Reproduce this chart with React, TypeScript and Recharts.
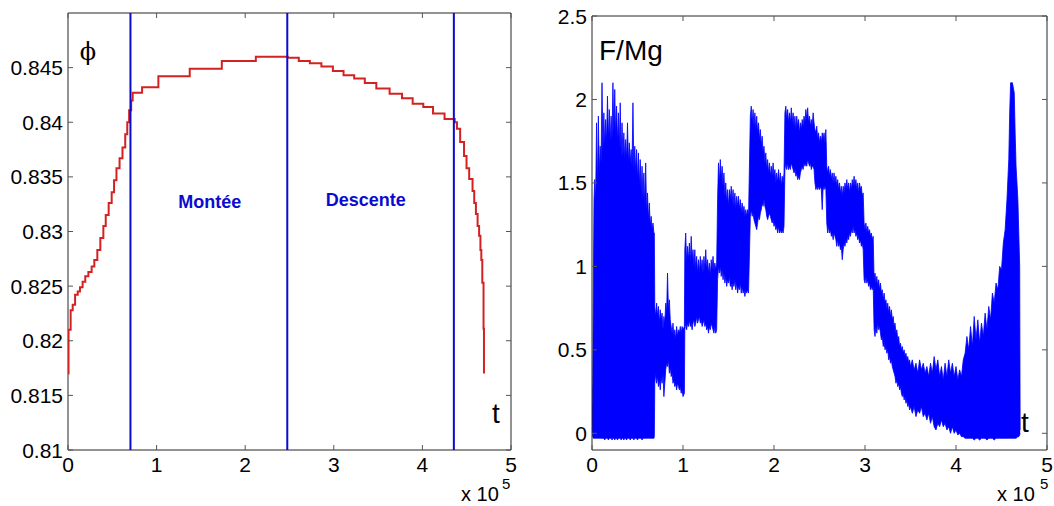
import React from "react";
import {
  Area,
  ComposedChart,
  Line,
  LineChart,
  ReferenceArea,
  ReferenceDot,
  ReferenceLine,
  XAxis,
  YAxis,
} from "recharts";

const FONT = '"Liberation Sans", Arial, Helvetica, sans-serif';
const BOX = "#262626";
const TICK = "#555";
const RED = "#d42222";
const BLUE_LINE = "#0b0bd0";
const BLUE = "#0000ff";
const TICK_LEN = 5;
const TICK_FONT = 21;

// ---- left panel: phi(t), t in units of 1e5 ----
const phiT = [
  0.004, 0.006, 0.03, 0.053, 0.08, 0.11, 0.135, 0.165, 0.195, 0.23, 0.267, 0.297,
  0.331, 0.365, 0.399, 0.426, 0.459, 0.493, 0.52, 0.547, 0.582, 0.615, 0.646,
  0.669, 0.69, 0.713, 0.73, 0.836, 1.02, 1.374, 1.736, 2.12, 2.48, 2.605, 2.73,
  2.86, 2.99, 3.11, 3.23, 3.35, 3.48, 3.63, 3.77, 3.89, 4.01, 4.12, 4.25, 4.365,
  4.39, 4.426, 4.47, 4.498, 4.528, 4.566, 4.585, 4.604, 4.623, 4.64, 4.655,
  4.665, 4.676, 4.69, 4.695,
];
const phiV = [
  0.817, 0.821, 0.8228, 0.8233, 0.8242, 0.8245, 0.8249, 0.8254, 0.8259, 0.8263,
  0.8268, 0.8274, 0.8283, 0.8294, 0.8305, 0.8315, 0.8326, 0.8336, 0.8347, 0.8358,
  0.8367, 0.8377, 0.8389, 0.84, 0.8411, 0.842, 0.8427, 0.8432, 0.8442, 0.8449,
  0.8456, 0.846, 0.8459, 0.8456, 0.8454, 0.8451, 0.8447, 0.8443, 0.844, 0.8436,
  0.8431, 0.8426, 0.8422, 0.8417, 0.8414, 0.8408, 0.8403, 0.84, 0.8394, 0.8382,
  0.8369, 0.8358, 0.8348, 0.8337, 0.8326, 0.8316, 0.8305, 0.8296, 0.8283, 0.8274,
  0.8253, 0.8211, 0.817,
];
const phaseLimits = [0.705, 2.475, 4.355];
const phaseNames = ["Montée", "Descente"];
const phaseLabelT = [1.6, 3.36];
const phaseLabelPhi = [0.8327, 0.8329];
const xTicks = [0, 1, 2, 3, 4, 5];
const phiTicks = [0.81, 0.815, 0.82, 0.825, 0.83, 0.835, 0.84, 0.845];

// ---- right panel: F/Mg, envelope (low, high) of the fast oscillation ----
const fSamples: [number, number, number][] = [
  [0.0, 0.02, 0.15], [0.008, -0.02, 0.3], [0.015, -0.03, 0.9], [0.022, -0.03, 1.4],
  [0.03, -0.03, 1.52], [0.04, -0.03, 1.4], [0.05, -0.03, 1.86], [0.06, -0.03, 1.45],
  [0.07, -0.03, 1.9], [0.08, -0.03, 1.55], [0.09, -0.03, 1.72], [0.1, -0.03, 1.62],
  [0.11, -0.03, 2.1], [0.12, -0.03, 1.7], [0.13, -0.03, 1.92], [0.14, -0.04, 1.72],
  [0.15, -0.03, 1.88], [0.16, -0.03, 1.74], [0.17, -0.03, 2.02], [0.18, -0.04, 1.76],
  [0.19, -0.03, 1.94], [0.2, -0.03, 1.75], [0.21, -0.03, 1.9], [0.22, -0.04, 1.76],
  [0.23, -0.03, 2.1], [0.24, -0.03, 1.8], [0.25, -0.04, 2.06], [0.26, -0.03, 1.78],
  [0.27, -0.03, 1.96], [0.28, -0.04, 1.74], [0.29, -0.03, 1.92], [0.3, -0.03, 1.7],
  [0.31, -0.03, 1.98], [0.32, -0.04, 1.66], [0.33, -0.03, 1.86], [0.34, -0.03, 1.66],
  [0.35, -0.04, 1.8], [0.36, -0.03, 1.64], [0.37, -0.03, 1.76], [0.38, -0.04, 1.64],
  [0.39, -0.03, 1.86], [0.4, -0.03, 1.62], [0.41, -0.03, 1.74], [0.42, -0.04, 1.62],
  [0.43, -0.03, 1.7], [0.44, -0.03, 1.6], [0.45, -0.03, 1.98], [0.46, -0.04, 1.58],
  [0.47, -0.03, 1.72], [0.48, -0.03, 1.56], [0.49, -0.03, 1.7], [0.5, -0.04, 1.52],
  [0.51, -0.03, 1.68], [0.52, -0.03, 1.48], [0.53, -0.03, 1.64], [0.54, -0.03, 1.44],
  [0.55, -0.04, 1.6], [0.56, -0.03, 1.4], [0.57, -0.03, 1.56], [0.58, -0.03, 1.36],
  [0.59, -0.03, 1.62], [0.6, -0.03, 1.32], [0.61, -0.03, 1.44], [0.62, -0.03, 1.28],
  [0.63, -0.03, 1.38], [0.64, -0.03, 1.24], [0.65, -0.03, 1.3], [0.66, -0.03, 1.22],
  [0.67, -0.03, 1.26], [0.68, -0.03, 1.2], [0.685, -0.02, 1.2],
  [0.69, 0.3, 0.76], [0.7, 0.36, 0.7], [0.71, 0.3, 0.78], [0.72, 0.34, 0.7],
  [0.73, 0.28, 0.76], [0.74, 0.32, 0.66], [0.75, 0.26, 0.74], [0.76, 0.34, 0.68],
  [0.77, 0.3, 0.72], [0.78, 0.36, 0.62], [0.79, 0.22, 0.7], [0.8, 0.3, 0.66],
  [0.81, 0.38, 0.78], [0.82, 0.42, 0.72], [0.83, 0.4, 0.96], [0.84, 0.44, 0.74],
  [0.85, 0.36, 0.8], [0.86, 0.4, 0.68], [0.87, 0.34, 0.64], [0.88, 0.36, 0.6],
  [0.89, 0.3, 0.66], [0.9, 0.32, 0.58], [0.91, 0.28, 0.62], [0.92, 0.3, 0.56],
  [0.93, 0.26, 0.64], [0.94, 0.3, 0.58], [0.95, 0.28, 0.62], [0.96, 0.26, 0.6],
  [0.97, 0.28, 0.64], [0.98, 0.24, 0.6], [0.99, 0.26, 0.64], [1.0, 0.22, 0.62],
  [1.015, 0.24, 0.64],
  [1.02, 0.62, 1.1], [1.03, 0.66, 1.2], [1.04, 0.62, 1.02], [1.05, 0.66, 1.12],
  [1.06, 0.64, 1.04], [1.07, 0.68, 1.14], [1.08, 0.64, 1.02], [1.09, 0.66, 1.18],
  [1.1, 0.62, 1.04], [1.11, 0.66, 1.1], [1.12, 0.68, 1.0], [1.13, 0.64, 1.1],
  [1.14, 0.66, 0.98], [1.15, 0.7, 1.06], [1.16, 0.66, 0.96], [1.17, 0.68, 1.04],
  [1.18, 0.7, 0.96], [1.19, 0.66, 1.06], [1.2, 0.68, 0.98], [1.21, 0.64, 1.04],
  [1.22, 0.66, 0.96], [1.23, 0.68, 1.06], [1.24, 0.64, 0.98], [1.25, 0.66, 1.1],
  [1.26, 0.62, 0.98], [1.27, 0.64, 1.04], [1.28, 0.6, 0.96], [1.29, 0.64, 1.02],
  [1.3, 0.62, 0.94], [1.31, 0.66, 1.04], [1.32, 0.64, 0.98], [1.33, 0.62, 1.06],
  [1.34, 0.6, 0.98], [1.35, 0.64, 1.02], [1.36, 0.6, 0.98], [1.37, 0.62, 1.02],
  [1.38, 0.92, 1.4], [1.39, 1.0, 1.62], [1.4, 0.96, 1.5], [1.41, 1.0, 1.64],
  [1.42, 0.94, 1.52], [1.43, 0.98, 1.6], [1.44, 0.92, 1.48], [1.45, 0.96, 1.56],
  [1.46, 0.9, 1.42], [1.47, 0.94, 1.5], [1.48, 0.88, 1.38], [1.49, 0.92, 1.46],
  [1.5, 0.9, 1.36], [1.51, 0.94, 1.46], [1.52, 0.88, 1.4], [1.53, 0.9, 1.48],
  [1.54, 0.86, 1.38], [1.55, 0.9, 1.46], [1.56, 0.88, 1.36], [1.57, 0.92, 1.44],
  [1.58, 0.86, 1.34], [1.59, 0.9, 1.42], [1.6, 0.84, 1.36], [1.61, 0.88, 1.42],
  [1.62, 0.86, 1.34], [1.63, 0.9, 1.4], [1.64, 0.84, 1.32], [1.65, 0.88, 1.38],
  [1.66, 0.84, 1.32], [1.67, 0.86, 1.36], [1.68, 0.82, 1.3], [1.69, 0.86, 1.34],
  [1.7, 0.84, 1.3], [1.71, 0.86, 1.34], [1.72, 0.84, 1.3],
  [1.74, 1.3, 1.9], [1.75, 1.34, 1.96], [1.76, 1.3, 1.86], [1.77, 1.32, 1.94],
  [1.78, 1.28, 1.84], [1.79, 1.26, 1.92], [1.8, 1.24, 1.82], [1.81, 1.22, 1.9],
  [1.82, 1.26, 1.8], [1.83, 1.3, 1.86], [1.84, 1.28, 1.76], [1.85, 1.32, 1.82],
  [1.86, 1.34, 1.72], [1.87, 1.38, 1.78], [1.88, 1.36, 1.68], [1.89, 1.4, 1.72],
  [1.9, 1.36, 1.62], [1.91, 1.34, 1.68], [1.92, 1.3, 1.58], [1.93, 1.28, 1.64],
  [1.94, 1.3, 1.56], [1.95, 1.32, 1.62], [1.96, 1.3, 1.54], [1.97, 1.28, 1.6],
  [1.98, 1.26, 1.54], [1.99, 1.28, 1.62], [2.0, 1.24, 1.54], [2.01, 1.26, 1.58],
  [2.02, 1.22, 1.5], [2.03, 1.24, 1.56], [2.04, 1.2, 1.5], [2.05, 1.24, 1.58],
  [2.06, 1.2, 1.5], [2.07, 1.22, 1.56], [2.08, 1.2, 1.48], [2.09, 1.22, 1.54],
  [2.1, 1.2, 1.5], [2.11, 1.24, 1.56],
  [2.12, 1.58, 1.92], [2.13, 1.62, 1.96], [2.14, 1.58, 1.88], [2.15, 1.62, 1.94],
  [2.16, 1.58, 1.86], [2.17, 1.6, 1.92], [2.18, 1.58, 1.86], [2.19, 1.62, 1.95],
  [2.2, 1.6, 1.86], [2.21, 1.58, 1.92], [2.22, 1.56, 1.84], [2.23, 1.58, 1.9],
  [2.24, 1.54, 1.82], [2.25, 1.56, 1.9], [2.26, 1.52, 1.84], [2.27, 1.54, 1.88],
  [2.28, 1.52, 1.8], [2.29, 1.56, 1.86], [2.3, 1.58, 1.82], [2.31, 1.6, 1.88],
  [2.32, 1.58, 1.84], [2.33, 1.62, 1.9], [2.34, 1.6, 1.86], [2.35, 1.62, 1.94],
  [2.36, 1.6, 1.88], [2.37, 1.64, 1.95], [2.38, 1.62, 1.86], [2.39, 1.6, 1.9],
  [2.4, 1.62, 1.84], [2.41, 1.58, 1.88], [2.42, 1.6, 1.84], [2.43, 1.6, 1.92],
  [2.44, 1.58, 1.86], [2.45, 1.5, 1.82], [2.46, 1.46, 1.8], [2.47, 1.48, 1.84],
  [2.48, 1.46, 1.76], [2.49, 1.48, 1.8], [2.5, 1.46, 1.74], [2.51, 1.48, 1.78],
  [2.52, 1.46, 1.74], [2.53, 1.34, 1.8], [2.54, 1.48, 1.76], [2.55, 1.46, 1.8],
  [2.56, 1.48, 1.74], [2.57, 1.46, 1.82],
  [2.58, 1.26, 1.6], [2.59, 1.2, 1.56], [2.6, 1.24, 1.6], [2.61, 1.2, 1.54],
  [2.62, 1.22, 1.58], [2.63, 1.18, 1.52], [2.64, 1.2, 1.56], [2.65, 1.16, 1.5],
  [2.66, 1.2, 1.56], [2.67, 1.18, 1.5], [2.68, 1.16, 1.54], [2.69, 1.12, 1.48],
  [2.7, 1.16, 1.52], [2.71, 1.12, 1.46], [2.72, 1.14, 1.5], [2.73, 1.1, 1.44],
  [2.74, 1.12, 1.48], [2.75, 1.04, 1.42], [2.76, 1.1, 1.48], [2.77, 1.14, 1.44],
  [2.78, 1.12, 1.5], [2.79, 1.16, 1.46], [2.8, 1.14, 1.52], [2.81, 1.18, 1.46],
  [2.82, 1.16, 1.5], [2.83, 1.2, 1.44], [2.84, 1.18, 1.5], [2.85, 1.22, 1.46],
  [2.86, 1.2, 1.52], [2.87, 1.24, 1.48], [2.88, 1.2, 1.54], [2.89, 1.22, 1.48],
  [2.9, 1.18, 1.52], [2.91, 1.2, 1.46], [2.92, 1.16, 1.5], [2.93, 1.18, 1.44],
  [2.94, 1.14, 1.5], [2.95, 1.16, 1.46], [2.96, 1.12, 1.48], [2.97, 1.14, 1.42],
  [2.98, 1.1, 1.44],
  [2.99, 0.92, 1.26], [3.0, 0.9, 1.22], [3.01, 0.94, 1.26], [3.02, 0.9, 1.2],
  [3.03, 0.92, 1.24], [3.04, 0.88, 1.2], [3.05, 0.9, 1.22], [3.06, 0.86, 1.18],
  [3.07, 0.88, 1.2], [3.08, 0.86, 1.16], [3.09, 0.88, 1.18],
  [3.1, 0.62, 0.92], [3.11, 0.58, 0.96], [3.12, 0.64, 0.9], [3.13, 0.6, 0.94],
  [3.14, 0.66, 0.88], [3.15, 0.62, 0.92], [3.16, 0.64, 0.86], [3.17, 0.6, 0.9],
  [3.18, 0.56, 0.84], [3.19, 0.58, 0.86], [3.2, 0.52, 0.8], [3.21, 0.54, 0.84],
  [3.22, 0.5, 0.78], [3.23, 0.52, 0.8], [3.24, 0.48, 0.74], [3.25, 0.5, 0.78],
  [3.26, 0.44, 0.72], [3.27, 0.46, 0.76], [3.28, 0.42, 0.7], [3.29, 0.44, 0.74],
  [3.3, 0.4, 0.68], [3.31, 0.38, 0.7], [3.32, 0.36, 0.64], [3.33, 0.34, 0.66],
  [3.34, 0.3, 0.6], [3.35, 0.32, 0.62], [3.36, 0.28, 0.56], [3.37, 0.3, 0.58],
  [3.38, 0.26, 0.52], [3.39, 0.28, 0.54], [3.4, 0.24, 0.5], [3.41, 0.22, 0.52],
  [3.42, 0.24, 0.48], [3.43, 0.2, 0.5], [3.44, 0.22, 0.46], [3.45, 0.18, 0.48],
  [3.46, 0.2, 0.44], [3.47, 0.16, 0.46], [3.48, 0.18, 0.42], [3.49, 0.14, 0.44],
  [3.5, 0.16, 0.4], [3.52, 0.12, 0.44], [3.54, 0.16, 0.38], [3.56, 0.1, 0.42],
  [3.58, 0.14, 0.36], [3.6, 0.12, 0.44], [3.62, 0.16, 0.38], [3.64, 0.1, 0.42],
  [3.66, 0.12, 0.36], [3.68, 0.08, 0.4], [3.7, 0.12, 0.34], [3.72, 0.06, 0.42],
  [3.74, 0.1, 0.36], [3.76, 0.04, 0.46], [3.78, 0.02, 0.38], [3.8, 0.06, 0.44],
  [3.82, 0.04, 0.34], [3.84, 0.08, 0.4], [3.86, 0.04, 0.32], [3.88, 0.06, 0.42],
  [3.9, 0.02, 0.34], [3.92, 0.04, 0.44], [3.94, 0.0, 0.36], [3.96, 0.04, 0.42],
  [3.98, 0.0, 0.34], [4.0, 0.02, 0.4], [4.02, -0.01, 0.32], [4.04, 0.0, 0.38],
  [4.06, -0.02, 0.34], [4.08, -0.02, 0.44], [4.1, -0.03, 0.48],
  [4.12, -0.03, 0.58], [4.14, -0.03, 0.5], [4.16, -0.03, 0.64], [4.18, -0.03, 0.52],
  [4.2, -0.04, 0.7], [4.22, -0.03, 0.56], [4.24, -0.03, 0.68], [4.26, -0.04, 0.54],
  [4.28, -0.03, 0.66], [4.3, -0.03, 0.58], [4.32, -0.03, 0.72], [4.34, -0.04, 0.62],
  [4.36, -0.03, 0.76], [4.38, -0.03, 0.68], [4.4, -0.03, 0.84], [4.42, -0.04, 0.78],
  [4.44, -0.03, 0.9], [4.46, -0.03, 0.86], [4.48, -0.03, 1.0], [4.5, -0.03, 0.98],
  [4.52, -0.03, 1.14], [4.54, -0.03, 1.22], [4.56, -0.03, 1.4], [4.58, -0.03, 1.64],
  [4.59, -0.03, 1.92], [4.6, -0.03, 2.1], [4.62, -0.03, 2.1], [4.64, -0.03, 2.04],
  [4.65, -0.03, 1.8], [4.66, -0.03, 1.6], [4.68, -0.02, 1.4], [4.69, -0.02, 1.2],
  [4.7, -0.01, 1.0], [4.705, 0.0, 0.02],
];
const fTicks = [0, 0.5, 1, 1.5, 2, 2.5];

type Frame = { left: number; right: number; top: number; bottom: number };
// plot rectangles, in each chart's own svg coordinates
const LEFT_FRAME: Frame = { left: 68, right: 511, top: 13, bottom: 450 };
const RIGHT_FRAME: Frame = { left: 52, right: 507, top: 16, bottom: 450 };

function XTick(props: any) {
  const { x, payload, frame } = props;
  return (
    <g>
      <line x1={x} x2={x} y1={frame.bottom} y2={frame.bottom - TICK_LEN} stroke={TICK} />
      <line x1={x} x2={x} y1={frame.top} y2={frame.top + TICK_LEN} stroke={TICK} />
      <text x={x} y={frame.bottom + 22} textAnchor="middle" fontSize={TICK_FONT} fontFamily={FONT} fill="#000">
        {String(payload.value)}
      </text>
    </g>
  );
}

function YTick(props: any) {
  const { y, payload, frame } = props;
  return (
    <g>
      <line x1={frame.left} x2={frame.left + TICK_LEN} y1={y} y2={y} stroke={TICK} />
      <line x1={frame.right} x2={frame.right - TICK_LEN} y1={y} y2={y} stroke={TICK} />
      <text x={frame.left - 5} y={y} dy="0.36em" textAnchor="end" fontSize={TICK_FONT} fontFamily={FONT} fill="#000">
        {String(payload.value)}
      </text>
    </g>
  );
}

const axisCommon = {
  tickLine: false,
  axisLine: false,
  tickSize: 0,
  tickMargin: 0,
  interval: 0 as const,
  allowDataOverflow: true,
};

function PhiChart() {
  const data = phiT.map((t, i) => ({ t, phi: phiV[i] }));
  return (
    <LineChart width={540} height={506} data={data} margin={{ top: 13, right: 29, bottom: 26, left: 0 }}>
      <XAxis
        type="number"
        dataKey="t"
        domain={[0, 5]}
        ticks={xTicks}
        height={30}
        {...axisCommon}
        tick={(p: any) => <XTick {...p} frame={LEFT_FRAME} />}
      />
      <YAxis
        type="number"
        domain={[0.81, 0.85]}
        ticks={phiTicks}
        width={68}
        {...axisCommon}
        tick={(p: any) => <YTick {...p} frame={LEFT_FRAME} />}
      />
      <ReferenceArea x1={0} x2={5} y1={0.81} y2={0.85} fill="none" stroke={BOX} strokeWidth={1} />
      <Line
        type="stepAfter"
        dataKey="phi"
        stroke={RED}
        strokeWidth={2}
        dot={false}
        activeDot={false}
        isAnimationActive={false}
      />
      {phaseLimits.map((t) => (
        <ReferenceLine key={t} x={t} stroke={BLUE_LINE} strokeWidth={2} />
      ))}
      {phaseNames.map((name, i) => (
        <ReferenceDot
          key={name}
          x={phaseLabelT[i]}
          y={phaseLabelPhi[i]}
          r={0}
          fill="none"
          stroke="none"
          label={{
            value: name,
            position: "center",
            fill: BLUE_LINE,
            fontSize: 18,
            fontWeight: 700,
            fontFamily: FONT,
          }}
        />
      ))}
    </LineChart>
  );
}

function ForceChart() {
  const data = fSamples.map(([t, lo, hi]) => ({ t, band: [lo, hi] }));
  return (
    <ComposedChart width={514} height={506} data={data} margin={{ top: 16, right: 7, bottom: 26, left: 0 }}>
      <XAxis
        type="number"
        dataKey="t"
        domain={[0, 5]}
        ticks={xTicks}
        height={30}
        {...axisCommon}
        tick={(p: any) => <XTick {...p} frame={RIGHT_FRAME} />}
      />
      <YAxis
        type="number"
        domain={[-0.1, 2.5]}
        ticks={fTicks}
        width={52}
        {...axisCommon}
        tick={(p: any) => <YTick {...p} frame={RIGHT_FRAME} />}
      />
      <Area
        type="linear"
        dataKey="band"
        stroke={BLUE}
        strokeWidth={0.8}
        fill={BLUE}
        fillOpacity={1}
        dot={false}
        activeDot={false}
        isAnimationActive={false}
      />
      <ReferenceArea x1={0} x2={5} y1={-0.1} y2={2.5} fill="none" stroke={BOX} strokeWidth={1} />
    </ComposedChart>
  );
}

export default function App() {
  return (
    <div style={{ position: "absolute", left: 0, top: 0, width: 1054, height: 506, background: "#fff" }}>
      <div style={{ position: "absolute", left: 0, top: 0 }}>
        <PhiChart />
      </div>
      <div style={{ position: "absolute", left: 540, top: 0 }}>
        <ForceChart />
      </div>
      <svg
        width={1054}
        height={506}
        style={{ position: "absolute", left: 0, top: 0, pointerEvents: "none" }}
        fontFamily={FONT}
      >
        <text x={88} y={60} textAnchor="middle" fontSize={24} fontFamily='"DejaVu Serif", serif'>
          ϕ
        </text>
        <text x={496} y={423} textAnchor="middle" fontSize={28}>
          t
        </text>
        <text x={461} y={501} fontSize={20}>
          x 10
        </text>
        <text x={502} y={489} fontSize={15}>
          5
        </text>
        <text x={599} y={60} fontSize={28}>
          F/Mg
        </text>
        <text x={1025} y={432} textAnchor="middle" fontSize={28}>
          t
        </text>
        <text x={997} y={501} fontSize={20}>
          x 10
        </text>
        <text x={1040} y={489} fontSize={15}>
          5
        </text>
      </svg>
    </div>
  );
}
